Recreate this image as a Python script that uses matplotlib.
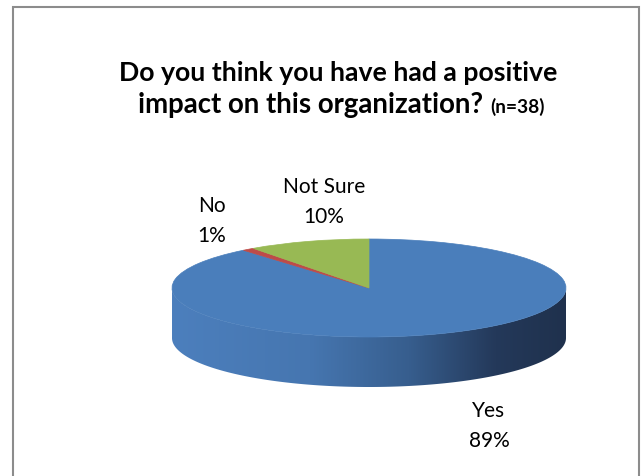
import matplotlib

matplotlib.use("Agg")

import matplotlib.pyplot as plt  # noqa: E402
import numpy as np  # noqa: E402
from matplotlib.colors import LinearSegmentedColormap  # noqa: E402
from matplotlib.patches import Polygon, Rectangle  # noqa: E402

# data
categories = ["Yes", "No", "Not Sure"]
percent = [89, 1, 10]
slice_colors = ["#4A7EBB", "#BE4B48", "#98B954"]
title_line1 = "Do you think you have had a positive"
title_line2 = "impact on this organization?"
title_note = "(n=38)"

W, H = 642, 476
# pie geometry (pixels): centre, semi-axes, thickness
cx, cy, a, b, depth = 369, 288, 197, 49, 50
d = depth / b

fig = plt.figure(figsize=(W / 100, H / 100), dpi=100)
fig.patch.set_facecolor("white")
ax = fig.add_axes([0, 0, 1, 1])

# side wall of the 3D pie (front half), with left->right shading
t = np.linspace(np.pi, 2 * np.pi, 300)
top_edge = np.column_stack([np.cos(t), np.sin(t)])
bot_edge = np.column_stack([np.cos(t[::-1]), np.sin(t[::-1]) - d])
wall = Polygon(np.vstack([top_edge, bot_edge]), closed=True,
               facecolor="none", edgecolor="none", transform=ax.transData)
ax.add_patch(wall)
side_cmap = LinearSegmentedColormap.from_list(
    "side", [(0, "#4C7FBD"), (0.35, "#4676B0"), (0.6, "#375E8E"),
             (0.82, "#24395A"), (1, "#1F314D")])
grad = np.linspace(0, 1, 256).reshape(1, -1)
im = ax.imshow(grad, cmap=side_cmap, aspect="auto",
               extent=(-1, 1, -1 - d, 0), zorder=1)
im.set_clip_path(wall)

# top face
wedges, _ = ax.pie(percent, colors=slice_colors, startangle=90,
                   counterclock=False, radius=1, center=(0, 0))
for w in wedges:
    w.set_edgecolor(w.get_facecolor())
    w.set_linewidth(0.5)
    w.set_zorder(2)

ax.set_aspect("auto")
ax.set_xlim(-cx / a, (W - cx) / a)
ax.set_ylim((cy - H) / b, cy / b)
ax.axis("off")


def fx(px):
    return px / W


def fy(py):
    return 1 - py / H


# border of the chart area
fig.add_artist(Rectangle((fx(13), fy(H + 10)), fx(639) - fx(13),
                         fy(7) - fy(H + 10), transform=fig.transFigure,
                         fill=False, edgecolor="#8C8C8C", linewidth=1.5))

# title
fig.text(fx(338), fy(81), title_line1, ha="center", va="baseline",
         fontsize=19.2, fontweight="bold", family="Lato")
t2 = fig.text(0, fy(113), title_line2, ha="left", va="baseline",
              fontsize=19.9, fontweight="bold", family="Lato")
t3 = fig.text(0, fy(113), title_note, ha="left", va="baseline",
              fontsize=13.8, fontweight="bold", family="Lato")
fig.canvas.draw()
w2 = t2.get_window_extent().width
w3 = t3.get_window_extent().width
gap = 7
x0 = 341 - (w2 + gap + w3) / 2
t2.set_x(fx(x0))
t3.set_x(fx(x0 + w2 + gap))

# data labels (centre x, baseline of first line)
label_pos = {"Yes": (489, 417), "No": (212, 212), "Not Sure": (324, 193)}
for name, val in zip(categories, percent):
    px, py = label_pos[name]
    fig.text(fx(px), fy(py), name, ha="center", va="baseline",
             fontsize=15, family="Lato")
    fig.text(fx(px), fy(py + 30), f"{val}%", ha="center", va="baseline",
             fontsize=15, family="Lato")

fig.savefig("out.png", dpi=100)
